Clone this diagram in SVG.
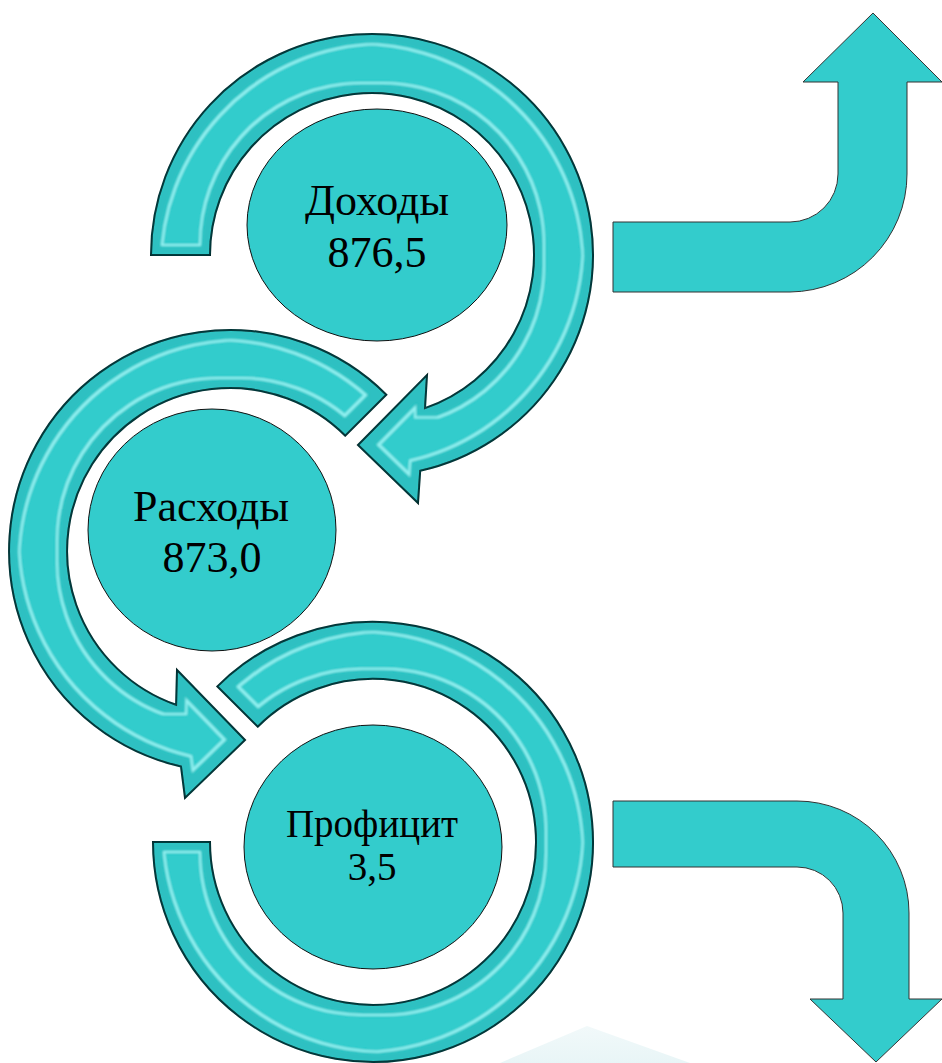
<svg xmlns="http://www.w3.org/2000/svg" width="942" height="1063" viewBox="0 0 942 1063">
<defs>
<filter id="bevel" x="-10%" y="-10%" width="120%" height="120%">
<feMorphology in="SourceAlpha" operator="erode" radius="10" result="e1"/>
<feMorphology in="SourceAlpha" operator="erode" radius="12" result="e2"/>
<feComposite in="e1" in2="e2" operator="out" result="line"/>
<feGaussianBlur in="line" stdDeviation="1.2" result="lineb"/>
<feFlood flood-color="#a8ffff" flood-opacity="0.75"/>
<feComposite in2="lineb" operator="in" result="hl"/>
<feComposite in="SourceAlpha" in2="e1" operator="out" result="rim"/>
<feGaussianBlur in="rim" stdDeviation="2" result="rimb"/>
<feFlood flood-color="#1a8f94" flood-opacity="0.22"/>
<feComposite in2="rimb" operator="in" result="shade"/>
<feComposite in="shade" in2="SourceAlpha" operator="in" result="shade2"/>
<feMerge>
<feMergeNode in="SourceGraphic"/>
<feMergeNode in="shade2"/>
<feMergeNode in="hl"/>
</feMerge>
</filter>
<linearGradient id="wm" x1="0" y1="0" x2="0" y2="1">
<stop offset="0" stop-color="#e4f3f5"/>
<stop offset="1" stop-color="#d2ebee"/>
</linearGradient>
</defs>
<style>
.ring{fill:#33CCCC;stroke:#111;stroke-width:2;stroke-linejoin:miter}
.node{fill:#33CCCC;stroke:#111;stroke-width:1}
.bend{fill:#33CCCC;stroke:#333;stroke-width:1}
.lbl{fill:#000;text-anchor:middle}
</style>
<polygon points="587,1026 500,1063 690,1063" fill="url(#wm)" opacity="0.5"/>
<g id="connectors">
<path class="ring" filter="url(#bevel)" d="M151,255 A221,221 0 1 1 420.2,470.7 L418,503 L358,445 L427,375 L425,408.1 A162,162 0 1 0 210,255 Z"/>
<path class="ring" filter="url(#bevel)" d="M386.3,394.7 A221,221 0 1 0 181,766.5 L185,798 L245,740 L177,670 L176.1,704.8 A163,163 0 1 1 345.3,435.7 Z"/>
<path class="ring" filter="url(#bevel)" d="M217.4,686.4 A220,220 0 1 1 153,842 L210,842 A163,163 0 1 0 257.7,726.7 Z"/>
<path class="bend" d="M613,222 L790,222 A48,48 0 0 0 838,174 L838,82 L803,82 L873,13 L942,82 L907,82 L907,174 A118,118 0 0 1 790,292 L613,292 Z"/>
<path class="bend" d="M613,801 L797,801 A112,112 0 0 1 909,913 L909,999 L942,999 L876,1062 L810,999 L843,999 L843,913 A46,46 0 0 0 797,867 L613,867 Z"/>
</g>
<g id="node-dohody">
<ellipse class="node" cx="377" cy="225" rx="130" ry="116"/>
<text class="lbl" x="377" y="215" font-size="44" font-family="'Liberation Serif', 'Times New Roman', serif">Доходы</text>
<text class="lbl" x="377" y="267" font-size="44" font-family="'Liberation Serif', 'Times New Roman', serif">876,5</text>
</g>
<g id="node-rashody">
<ellipse class="node" cx="212" cy="530" rx="124" ry="121"/>
<text class="lbl" x="211" y="521" font-size="44" font-family="'Liberation Serif', 'Times New Roman', serif">Расходы</text>
<text class="lbl" x="212" y="572" font-size="44" font-family="'Liberation Serif', 'Times New Roman', serif">873,0</text>
</g>
<g id="node-proficit">
<ellipse class="node" cx="373" cy="847" rx="129" ry="122"/>
<text class="lbl" x="372" y="837" font-size="39" font-family="'Liberation Serif', 'Times New Roman', serif">Профицит</text>
<text class="lbl" x="372" y="880" font-size="39" font-family="'Liberation Serif', 'Times New Roman', serif">3,5</text>
</g>
</svg>
